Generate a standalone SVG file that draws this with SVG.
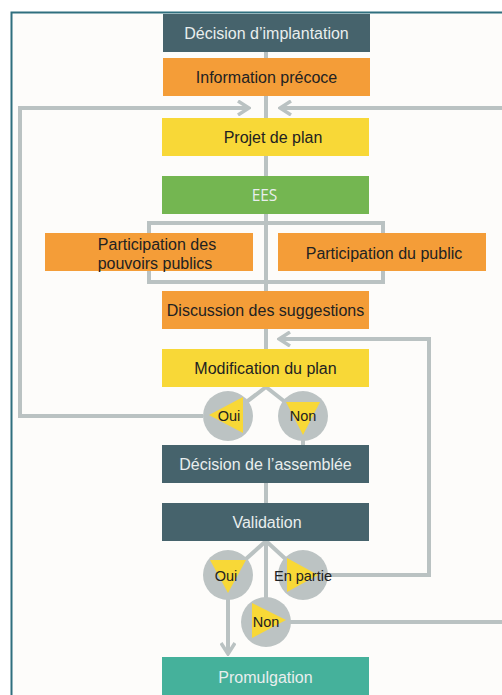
<svg xmlns="http://www.w3.org/2000/svg" width="502" height="695" viewBox="0 0 502 695">
<style>
.box{stroke:none}
.dark{fill:#46636c}
.orange{fill:#f49d38}
.yellow{fill:#f8d837}
.green{fill:#74b651}
.teal{fill:#45b19b}
.t{font-family:"Liberation Sans",Arial,sans-serif;font-size:16px;text-anchor:middle;dominant-baseline:central}
.tw{fill:#e9eeee}
.tk{fill:#222222}
.ts{font-family:"Liberation Sans",Arial,sans-serif;font-size:14.5px;text-anchor:middle;dominant-baseline:central;fill:#222222}
.ln{fill:none;stroke:#bac2c2;stroke-width:4}
.circ{fill:#bcc3c3}
.tri{fill:#f8d837}
</style>
<defs>
<marker id="chev" viewBox="0 0 14 16" refX="12" refY="8" markerWidth="14" markerHeight="16" markerUnits="userSpaceOnUse" orient="auto">
<path d="M1,1 L12,8 L1,15" fill="none" stroke="#bac2c2" stroke-width="3.5"/>
</marker>
</defs>
<rect x="0" y="0" width="502" height="695" fill="#ffffff"/>
<rect x="11" y="12" width="491" height="683" fill="#fdfcfa"/>
<path d="M11.5,695 L11.5,12.5 L502,12.5" fill="none" stroke="#2f6f7e" stroke-width="2"/>

<g id="connectors">
<line class="ln" x1="266" y1="52" x2="266" y2="349"/>
<path class="ln" d="M203,416 H20 V108 H249" marker-end="url(#chev)"/>
<path class="ln" d="M502,108 H280" marker-end="url(#chev)"/>
<path class="ln" d="M149,233 V223 H383 V233 M149,271 V282 H383 V271"/>
<path class="ln" d="M327,575 H429 V339 H279" marker-end="url(#chev)"/>
<path class="ln" d="M266,387 L228,416 M266,387 L303,416"/>
<line class="ln" x1="303" y1="416" x2="303" y2="445"/>
<line class="ln" x1="266" y1="483" x2="266" y2="503"/>
<path class="ln" d="M266,541 L228,575 M266,541 L303,575 M266,541 V600"/>
<path class="ln" d="M228,598 V654" marker-end="url(#chev)"/>
<path class="ln" d="M290,622 H502"/>
</g>

<g id="n-decision-implantation">
<rect class="box dark" x="163" y="14" width="207" height="38"/>
<text class="t tw" x="266.5" y="33">Décision d’implantation</text>
</g>
<g id="n-information-precoce">
<rect class="box orange" x="163" y="58" width="207" height="38"/>
<text class="t tk" x="266.5" y="77">Information précoce</text>
</g>
<g id="n-projet-de-plan">
<rect class="box yellow" x="162" y="118" width="207" height="38"/>
<text class="t tk" x="273" y="137">Projet de plan</text>
</g>
<g id="n-ees">
<rect class="box green" x="162" y="176" width="207" height="38"/>
<text class="t tw" x="264.5" y="195" style="font-family:'Open Sans',sans-serif;font-size:15.5px">EES</text>
</g>
<g id="n-participation-pouvoirs">
<rect class="box orange" x="45" y="233" width="208" height="38"/>
<text class="t tk" x="157" y="244">Participation des</text>
<text class="t tk" x="155" y="263">pouvoirs publics</text>
</g>
<g id="n-participation-public">
<rect class="box orange" x="278" y="233" width="208" height="38"/>
<text class="t tk" x="384" y="253">Participation du public</text>
</g>
<g id="n-discussion">
<rect class="box orange" x="162" y="291" width="207" height="38"/>
<text class="t tk" x="265.5" y="310">Discussion des suggestions</text>
</g>
<g id="n-modification">
<rect class="box yellow" x="162" y="349" width="207" height="38"/>
<text class="t tk" x="265.5" y="368">Modification du plan</text>
</g>
<g id="n-oui-1">
<circle class="circ" cx="228" cy="416" r="25"/>
<polygon class="tri" points="209,415 243,397 243,433"/>
<text class="ts" x="229" y="416">Oui</text>
</g>
<g id="n-non-1">
<circle class="circ" cx="303" cy="416" r="25"/>
<polygon class="tri" points="286,402 320,402 303,435"/>
<text class="ts" x="303" y="416">Non</text>
</g>
<g id="n-decision-assemblee">
<rect class="box dark" x="162" y="445" width="207" height="38"/>
<text class="t tw" x="265.5" y="464">Décision de l’assemblée</text>
</g>
<g id="n-validation">
<rect class="box dark" x="162" y="503" width="207" height="38"/>
<text class="t tw" x="267" y="522">Validation</text>
</g>
<g id="n-oui-2">
<circle class="circ" cx="228" cy="575" r="25"/>
<polygon class="tri" points="210,560 246,560 228,593"/>
<text class="ts" x="226" y="576">Oui</text>
</g>
<g id="n-en-partie">
<circle class="circ" cx="303" cy="575" r="25"/>
<polygon class="tri" points="287,558 287,592 318,575"/>
<text class="ts" x="303" y="576">En partie</text>
</g>
<g id="n-non-2">
<circle class="circ" cx="266" cy="622" r="25"/>
<polygon class="tri" points="252,603 252,638 286,620"/>
<text class="ts" x="266" y="622">Non</text>
</g>
<g id="n-promulgation">
<rect class="box teal" x="162" y="657" width="207" height="38"/>
<text class="t tw" x="265.5" y="677">Promulgation</text>
</g>
</svg>
